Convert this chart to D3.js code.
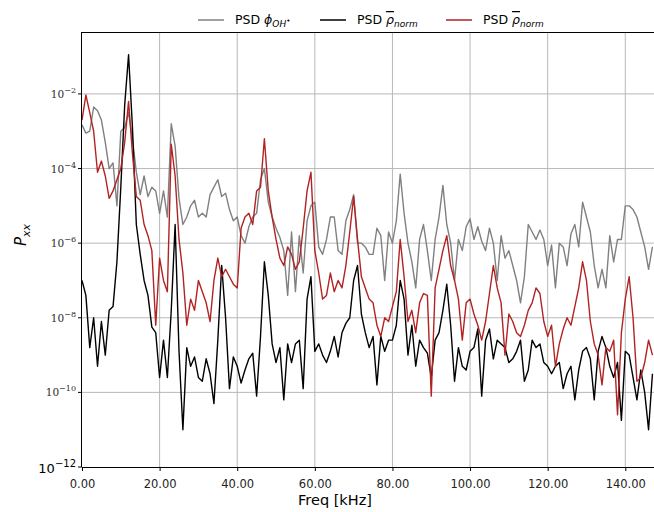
<!DOCTYPE html>
<html>
<head>
<meta charset="utf-8">
<script src="https://cdn.jsdelivr.net/npm/d3@7"></script>
<style>
  body { margin: 0; background: #fff; }
  text { font-family: "DejaVu Sans", sans-serif; }
</style>
</head>
<body>
<div id="chart"></div>
<script>
// frequency grid (kHz), one sample per kHz
var freqKHz = d3.range(0, 148);

// log10(Pxx)
var psdPhiLog = [
  -2.83, -3.05, -3.0, -2.35, -2.45, -2.7, -3.3, -4.0, -3.85, -5.0,
  -3.0, -2.9, -2.5, -3.2, -4.1, -4.7, -4.2, -4.75, -4.5, -4.6,
  -5.2, -4.6, -5.3, -2.8, -3.4, -4.8, -5.5, -5.3, -5.0, -4.85,
  -5.3, -5.2, -5.3, -4.7, -4.5, -4.3, -4.75, -4.66, -5.1, -5.4,
  -5.3, -5.8, -6.0, -5.56, -5.3, -5.2, -4.3, -4.0, -4.9, -5.3,
  -5.6, -5.85, -6.2, -7.4, -5.7, -7.3, -5.8, -6.8, -5.4, -5.0,
  -4.9, -6.1, -6.3, -5.9, -5.3, -5.3, -6.2, -6.3, -5.4, -5.1,
  -4.7, -6.0, -6.0, -6.1, -6.3, -6.3, -5.6, -5.8, -7.0, -5.7,
  -6.0, -5.4, -4.15, -5.2, -6.0, -6.5, -7.2, -5.9, -5.5, -6.2,
  -7.0, -5.9, -5.3, -4.45, -5.5, -6.0, -7.0, -5.9, -6.2, -5.56,
  -5.35, -5.9, -5.56, -5.95, -6.2, -5.6, -6.0, -7.0, -5.8, -6.4,
  -6.2, -6.6, -7.0, -7.6, -6.9, -5.5, -5.7, -5.9, -5.65, -5.9,
  -6.6, -6.05, -7.2, -6.0, -6.1, -6.6, -5.75, -5.5, -6.1, -4.9,
  -5.3, -5.7, -6.6, -7.2, -6.7, -7.2, -5.8, -6.5, -5.9, -5.9,
  -5.0, -5.0, -5.1, -5.3, -5.7, -6.1, -6.7, -6.1
];
var psdRhoBlackLog = [
  -7.0, -7.4, -8.8, -8.0, -9.3, -8.1, -9.0, -7.8, -7.7, -6.5,
  -4.5, -2.3, -0.95, -2.9, -5.5, -6.3, -7.0, -7.4, -8.25, -8.4,
  -9.6, -8.6, -9.6, -7.8, -5.5, -8.9, -11.0, -8.8, -9.3, -9.05,
  -9.6, -9.7, -9.1, -9.5, -10.3, -8.6, -6.6, -8.0, -9.9, -9.05,
  -9.3, -9.75, -9.4, -9.1, -8.95, -10.1, -8.5, -6.5, -7.4, -8.7,
  -9.2, -8.8, -10.2, -8.7, -9.2, -8.7, -8.6, -9.9, -7.5, -6.9,
  -8.9, -8.7, -9.0, -9.2, -8.9, -8.5, -9.05, -8.4, -8.15, -8.0,
  -7.0, -6.6, -7.9, -8.4, -8.8, -8.5, -9.8, -8.5, -8.9, -8.6,
  -8.6, -8.2, -7.0, -7.5, -9.0, -8.2, -9.3, -8.6, -8.8, -8.95,
  -9.6, -8.6, -8.4, -7.8, -7.1, -8.2, -9.7, -8.8, -9.3, -9.4,
  -8.9, -8.8, -8.3, -10.1, -8.6, -8.3, -9.1, -8.6, -8.7, -8.8,
  -9.2, -9.1, -8.9, -8.6, -9.7, -9.4, -8.6, -8.8, -8.7, -9.2,
  -9.3, -9.5, -9.3, -9.2, -9.9, -9.5, -9.3, -10.2, -9.4, -8.9,
  -8.8, -9.1, -10.2, -8.9, -8.5, -8.8, -9.3, -9.6, -9.2, -10.75,
  -8.9, -9.0, -9.6, -10.2, -9.4, -10.0, -11.0, -9.5
];
var psdRhoRedLog = [
  -2.7, -2.03, -2.5, -3.0, -4.1, -3.8, -4.2, -4.8, -4.6, -4.3,
  -4.0, -3.3, -2.2, -3.6, -4.75, -4.85, -5.5, -5.8, -6.2, -8.2,
  -6.4, -7.0, -7.3, -3.35, -4.2, -5.9, -6.8, -8.2, -7.5, -7.8,
  -7.0, -7.3, -7.6, -8.1, -7.0, -6.4, -6.9, -6.7, -6.9, -7.1,
  -7.2, -5.6, -5.3, -5.2, -5.5, -4.6, -4.5, -3.2, -4.6, -5.3,
  -5.9, -6.4, -6.6, -6.1, -6.3, -6.7, -6.5, -5.6, -4.6, -4.1,
  -6.2, -6.8, -7.5, -7.4, -6.8, -7.3, -7.0, -7.2, -6.6, -5.7,
  -4.75, -5.9, -6.9, -7.2, -7.5, -7.6, -8.2, -8.5, -8.0, -8.1,
  -7.7, -7.3, -5.9, -6.9, -8.1, -7.8, -8.4, -7.6, -7.35, -7.4,
  -10.1, -7.2, -6.7, -6.2, -5.8, -6.6, -7.0, -7.5, -8.6, -7.6,
  -7.5, -7.9, -8.2, -8.6, -8.1, -7.35, -6.6, -7.2, -7.6, -9.0,
  -7.9, -8.1, -8.4, -8.5, -8.2, -7.8, -7.6, -7.2, -7.35, -8.1,
  -8.5, -8.2, -9.3, -8.7, -8.3, -8.0, -8.2, -7.7, -7.2, -6.5,
  -7.0, -8.1, -8.7, -9.0, -9.8, -8.8, -8.9, -8.6, -10.6, -8.4,
  -7.5, -6.9, -8.0, -9.7, -9.6, -9.2, -8.6, -9.0
];

var xTicks = [0, 20, 40, 60, 80, 100, 120, 140];
var yTickExps = [-2, -4, -6, -8, -10];
var seriesColors = ["#808080", "#000000", "#b22222"];

var W = 654, H = 512;
var margin = { left: 82, top: 32, right: 0, bottom: 45 };

var svg = d3.select("#chart").append("svg")
    .attr("width", W)
    .attr("height", H);

var x = d3.scaleLinear()
    .domain([0, 147.4])
    .range([margin.left, W - margin.right]);
var y = d3.scaleLog()
    .domain([1e-12, Math.pow(10, -0.34)])
    .range([H - margin.bottom, margin.top]);

// grid
svg.append("g").selectAll("line")
    .data(xTicks.filter(function (d) { return d > 0; }))
    .enter().append("line")
    .attr("x1", function (d) { return x(d); })
    .attr("x2", function (d) { return x(d); })
    .attr("y1", margin.top)
    .attr("y2", H - margin.bottom)
    .attr("stroke", "#b8b8b8")
    .attr("stroke-width", 1);
svg.append("g").selectAll("line")
    .data(yTickExps)
    .enter().append("line")
    .attr("x1", margin.left)
    .attr("x2", W)
    .attr("y1", function (d) { return y(Math.pow(10, d)); })
    .attr("y2", function (d) { return y(Math.pow(10, d)); })
    .attr("stroke", "#b8b8b8")
    .attr("stroke-width", 1);

// series
var plot = svg.append("g");
var line = d3.line()
    .x(function (d) { return x(d[0]); })
    .y(function (d) { return y(Math.pow(10, d[1])); });
[psdPhiLog, psdRhoBlackLog, psdRhoRedLog].forEach(function (s, i) {
    plot.append("path")
        .datum(freqKHz.map(function (f, k) { return [f, s[k]]; }))
        .attr("fill", "none")
        .attr("stroke", seriesColors[i])
        .attr("stroke-width", 1.4)
        .attr("stroke-linejoin", "round")
        .attr("d", line);
});

// spines
svg.append("line")
    .attr("x1", margin.left).attr("x2", W)
    .attr("y1", margin.top + 0.5).attr("y2", margin.top + 0.5)
    .attr("stroke", "#000").attr("stroke-width", 1);
svg.append("line")
    .attr("x1", margin.left).attr("x2", W)
    .attr("y1", H - margin.bottom + 0.5).attr("y2", H - margin.bottom + 0.5)
    .attr("stroke", "#000").attr("stroke-width", 1);
svg.append("line")
    .attr("x1", margin.left - 0.5).attr("x2", margin.left - 0.5)
    .attr("y1", margin.top).attr("y2", H - margin.bottom)
    .attr("stroke", "#000").attr("stroke-width", 1);

// x axis
var xAxis = d3.axisBottom(x)
    .tickValues(xTicks)
    .tickSize(4)
    .tickFormat(d3.format(".2f"));
var gx = svg.append("g")
    .attr("transform", "translate(0," + (H - margin.bottom) + ")")
    .call(xAxis);
gx.select(".domain").remove();
gx.selectAll("text")
    .attr("dy", "1.2em")
    .style("font-family", "DejaVu Sans")
    .style("font-size", "11.5px")
    .attr("fill", "#222");
svg.append("text")
    .attr("x", 335)
    .attr("y", 505)
    .attr("text-anchor", "middle")
    .style("font-size", "14.5px")
    .text("Freq [kHz]");

// y axis ticks
var gy = svg.append("g");
yTickExps.concat([-12]).forEach(function (e) {
    var yy = y(Math.pow(10, e));
    gy.append("line")
        .attr("x1", margin.left - 4).attr("x2", margin.left)
        .attr("y1", yy).attr("y2", yy)
        .attr("stroke", "#000");
    var big = e === -12;
    var t = gy.append("text")
        .attr("x", margin.left - 6)
        .attr("y", yy + (big ? 6 : 4))
        .attr("text-anchor", "end")
        .style("font-family", big ? "DejaVu Sans" : "DejaVu Serif")
        .style("font-size", big ? "13px" : "10.5px")
        .attr("fill", big ? "#000" : "#2a2a2a");
    t.append("tspan").text("10");
    t.append("tspan")
        .attr("dy", big ? -6 : -5)
        .style("font-size", big ? "10px" : "8px")
        .text("\u2212" + (-e));
});

// y label
var yl = svg.append("text")
    .attr("transform", "translate(26,235) rotate(-90)")
    .attr("text-anchor", "middle")
    .style("font-style", "italic")
    .style("font-size", "15px");
yl.append("tspan").text("P");
yl.append("tspan").attr("dy", 4).style("font-size", "11px").text("xx");

// legend
var legend = svg.append("g");
var legendItems = [
    { x: 198, sym: "\u03d5", sub: "OH", prime: true },
    { x: 320, sym: "\u03c1", sub: "norm", bar: true },
    { x: 446, sym: "\u03c1", sub: "norm", bar: true }
];
legendItems.forEach(function (it, i) {
    legend.append("line")
        .attr("x1", it.x).attr("x2", it.x + 26)
        .attr("y1", 20).attr("y2", 20)
        .attr("stroke", seriesColors[i])
        .attr("stroke-width", 1.5);
    var t = legend.append("text")
        .attr("x", it.x + 37)
        .attr("y", 24)
        .style("font-size", "12.5px");
    t.append("tspan").text("PSD ");
    var s = t.append("tspan").style("font-style", "italic").text(it.sym);
    if (it.bar) s.style("text-decoration", "overline");
    t.append("tspan")
        .attr("dy", 3)
        .style("font-style", "italic")
        .style("font-size", "9px")
        .text(it.sub);
    if (it.prime) {
        t.append("tspan")
            .attr("dy", -4)
            .style("font-size", "7px")
            .text("\u2022");
    }
});
</script>
</body>
</html>
